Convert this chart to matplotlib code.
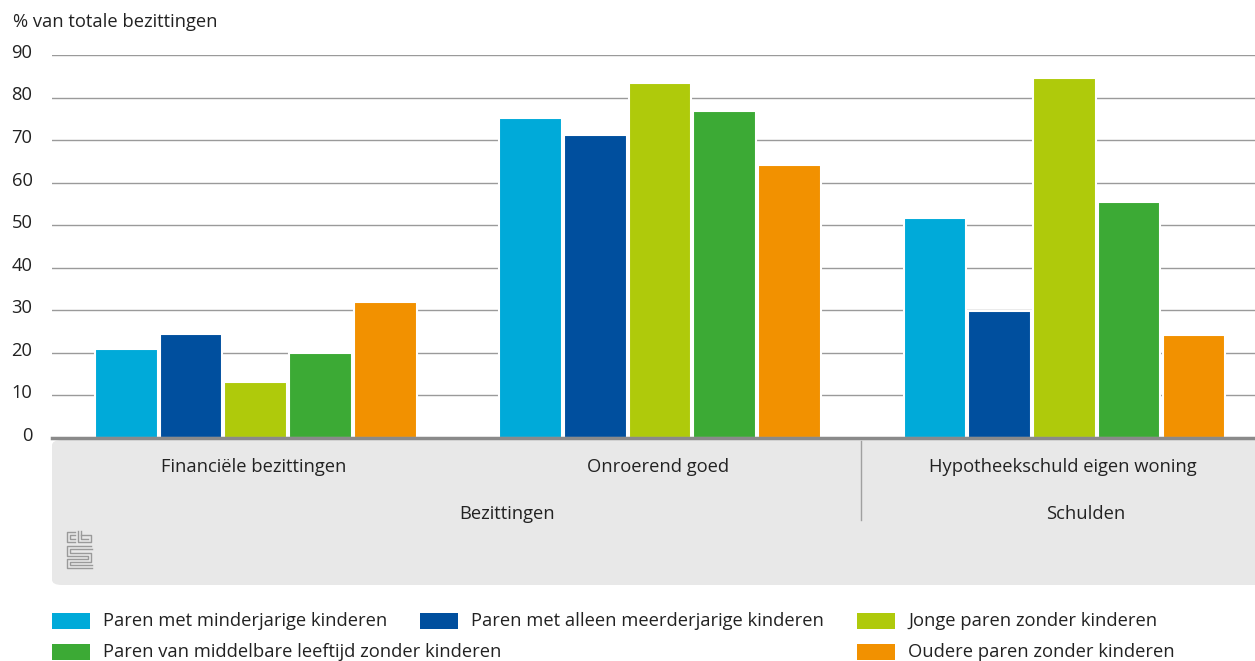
import numpy as np
import matplotlib
matplotlib.use("Agg")
import matplotlib.pyplot as plt
import matplotlib.transforms as mtransforms
from matplotlib.patches import Rectangle, FancyBboxPatch
from matplotlib.lines import Line2D

plt.rcParams['font.family'] = ['Open Sans', 'DejaVu Sans']

# Data
categorieen = ["Financiële bezittingen", "Onroerend goed", "Hypotheekschuld eigen woning"]
groepen = ["Bezittingen", "Schulden"]
reeksen = ["Paren met minderjarige kinderen",
           "Paren met alleen meerderjarige kinderen",
           "Jonge paren zonder kinderen",
           "Paren van middelbare leeftijd zonder kinderen",
           "Oudere paren zonder kinderen"]
minderjarig = [20.9, 75.2, 51.7]
meerderjarig = [24.4, 71.1, 29.9]
jong = [13.2, 83.4, 84.5]
middelbaar = [20.0, 76.9, 55.5]
ouder = [32.0, 64.2, 24.2]
waarden = [minderjarig, meerderjarig, jong, middelbaar, ouder]
kleuren = ["#00aad9", "#004f9e", "#afca0b", "#3caa35", "#f29100"]
yticks = [0, 10, 20, 30, 40, 50, 60, 70, 80, 90]

W, H = 1255, 661
fs = 13.2
fig = plt.figure(figsize=(W / 100, H / 100), dpi=100)
ax = fig.add_axes([52 / W, (H - 438) / H, 1213 / W, (438 - 55) / H])

tekst = "#222222"
x = np.arange(len(categorieen))
stap = 0.16
for i, (vals, kleur) in enumerate(zip(waarden, kleuren)):
    ax.bar(x + (i - 2) * stap + 0.004, vals, width=0.155, color=kleur,
           edgecolor="white", linewidth=1.5, zorder=3)

ax.set_xlim(-0.5, 2.5)
ax.set_ylim(0, 90)
ax.set_yticks(yticks)
ax.grid(axis="y", color="#9a9a9a", linewidth=1.0, zorder=0)
ax.set_axisbelow(True)
for s in ["top", "right", "left"]:
    ax.spines[s].set_visible(False)
ax.spines["bottom"].set_color("#8a8a8a")
ax.spines["bottom"].set_linewidth(2.5)
ax.spines["bottom"].set_zorder(5)
ax.set_xticks([])
ax.tick_params(axis="y", length=0, pad=14, labelsize=fs, labelcolor=tekst)
off = mtransforms.ScaledTranslation(0, 3 / 72, fig.dpi_scale_trans)
for lab in ax.get_yticklabels():
    lab.set_transform(lab.get_transform() + off)

fig.text(13 / W, (H - 22) / H, "% van totale bezittingen", ha="left", va="center",
         fontsize=fs, color=tekst)

# grijs paneel onder de as
panel = FancyBboxPatch((52 / W, (H - 585) / H), 1250 / W, (585 - 440) / H,
                       boxstyle="round,pad=0,rounding_size=0.008",
                       transform=fig.transFigure, facecolor="#e8e8e8",
                       edgecolor="none", zorder=0)
fig.add_artist(panel)

tr = ax.get_xaxis_transform()
for i, c in enumerate(categorieen):
    ax.text(x[i], -29 / 383, c, transform=tr, ha="center", va="center",
            fontsize=fs, color=tekst, clip_on=False)
ax.text(0.625, -76 / 383, groepen[0], transform=tr, ha="center", va="center",
        fontsize=fs, color=tekst, clip_on=False)
ax.text(2.057, -76 / 383, groepen[1], transform=tr, ha="center", va="center",
        fontsize=fs, color=tekst, clip_on=False)
ax.plot([1.5, 1.5], [-3 / 383, -82 / 383], transform=tr, color="#a0a0a0",
        linewidth=1, clip_on=False)

# klein cbs-logo
def px(xp, yp):
    return xp / W, (H - yp) / H

logo = [[(75, 532), (67, 532), (67, 542), (75, 542)],
        [(75, 535), (70, 535), (70, 539), (75, 539)],
        [(78, 531), (78, 542), (91, 542), (91, 535), (81, 535)],
        [(81, 531), (81, 539), (88, 539)],
        [(91, 546), (67, 546), (67, 556), (88, 556), (88, 559), (67, 559), (67, 568), (92, 568)],
        [(92, 549), (70, 549), (70, 553), (91, 553), (91, 562), (70, 562), (70, 565), (92, 565)]]
for pts in logo:
    xs, ys = zip(*[px(a, b) for a, b in pts])
    fig.add_artist(Line2D(xs, ys, transform=fig.transFigure, color="#9a9a9a", linewidth=1.0))

# legenda
posities = [(52, 621), (420, 621), (857, 621), (52, 652), (857, 652)]
for (lx, ly), naam, kleur in zip(posities, reeksen, kleuren):
    fig.add_artist(Rectangle(px(lx, ly + 8), 38 / W, 16 / H, transform=fig.transFigure,
                             facecolor=kleur, edgecolor="none"))
    fig.text((lx + 51) / W, (H - ly) / H, naam, ha="left", va="center",
             fontsize=fs, color=tekst)

fig.savefig("out.png", dpi=100)
